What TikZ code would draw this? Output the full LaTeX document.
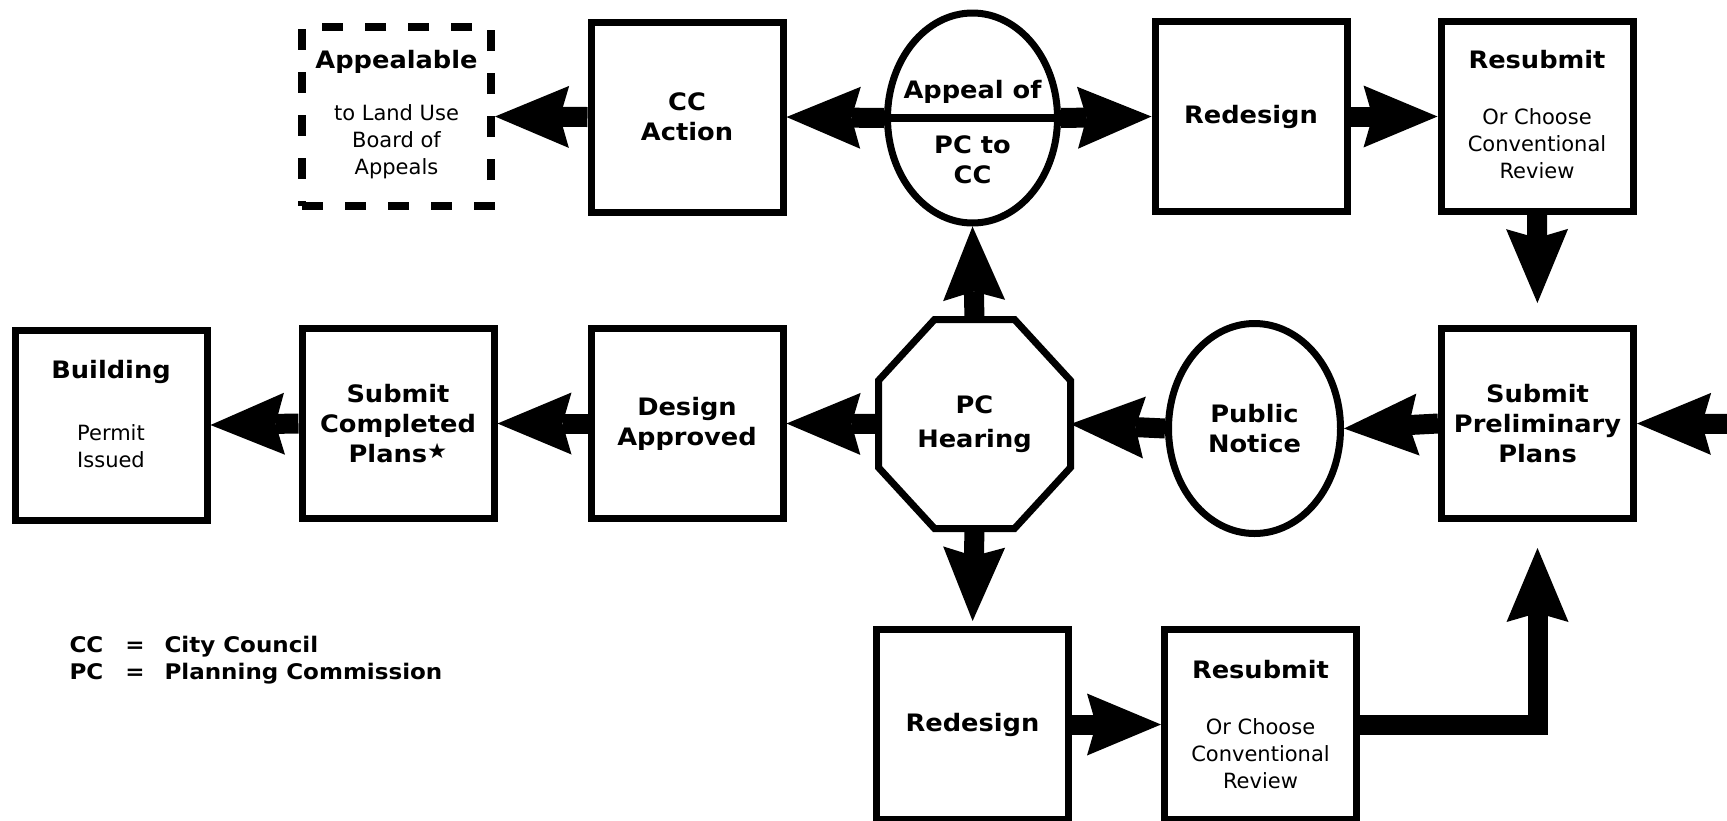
\documentclass[tikz,border=0pt]{standalone}
\usepackage{fontspec}
\setmainfont{DejaVu Sans}[BoldFeatures={FakeStretch=1.07}]
\usepackage{tikz}
\usetikzlibrary{arrows.meta, calc, shapes.geometric}
\newcommand{\headfont}{\fontsize{24}{30}\selectfont\bfseries}
\newcommand{\bodyfont}{\fontsize{21}{27}\selectfont}
\newcommand{\keyfont}{\fontsize{21.5}{27}\selectfont\bfseries}

\begin{document}
\begin{tikzpicture}[x=1pt, y=-1pt,
        stagebox/.style={draw, line width=7pt, minimum width=192pt, minimum height=190pt, align=center, font=\headfont},
        stageoval/.style={draw, ellipse, line width=7pt, minimum width=170pt, minimum height=210pt, inner sep=0pt, align=center, font=\headfont},
        head/.style={font=\headfont},
        body/.style={align=center, font=\bodyfont},
        flow/.style={line width=20pt, -{Stealth[length=74pt, width=62pt, inset=9pt, line width=0pt]}}]
        \useasboundingbox (0,0) rectangle (1727,820);

        % top row
        \node[stagebox, line width=8pt, dash pattern=on 21pt off 22pt, minimum width=189pt, minimum height=179pt] (luba) at (396.5,116.5) {};
        \node[head] (lubahead) at ($(luba)+(0,-54.5)$) {Appealable};
        \node[body] (lubabody) at ($(luba)+(0,25.5)$) {to Land Use\\Board of\\Appeals};
        \node[stagebox] (ccact) at (687,117) {CC\\Action};
        \node[stageoval] (appeal) at (972.5,118) {};
        \node[head] (appealhi) at ($(appeal)+(0,-26)$) {Appeal of};
        \node[head, align=center] (appeallo) at ($(appeal)+(0,42)$) {PC to\\CC};
        \node[stagebox] (redesignA) at (1251,116.5) {Redesign};
        \node[stagebox] (resubA) at (1537,116.5) {};
        \node[head] (resubAhead) at ($(resubA)+(0,-56.5)$) {Resubmit};
        \node[body] (resubAbody) at ($(resubA)+(0,27)$) {Or Choose\\Conventional\\Review};

        % middle row
        \node[stagebox] (building) at (111,425) {};
        \node[head] (buildinghead) at ($(building)+(0,-53)$) {Building};
        \node[body] (buildingbody) at ($(building)+(0,21.5)$) {Permit\\Issued};
        \node[stagebox] (completed) at (398,423.5) {Submit\\Completed\\Plans\raisebox{4pt}{\fontsize{21}{21}\selectfont ★}};
        \node[stagebox] (approved) at (687,423.5) {Design\\Approved};
        \node[stagebox, draw=none, outer sep=0pt, minimum height=209pt] (hearing) at (974.5,424) {PC\\[4pt]Hearing};
        \node[stageoval, minimum width=172pt] (notice) at (1254.5,428.5) {Public\\Notice};
        \node[stagebox] (prelim) at (1537.5,423.5) {Submit\\Preliminary\\Plans};
        \coordinate (entry) at (1740,424);

        % bottom row
        \node[stagebox] (redesignB) at (972.5,724.5) {Redesign};
        \node[stagebox] (resubB) at (1260.5,724.5) {};
        \node[head] (resubBhead) at ($(resubB)+(0,-54.5)$) {Resubmit};
        \node[body] (resubBbody) at ($(resubB)+(0,29)$) {Or Choose\\Conventional\\Review};

        \draw[line width=7pt, line join=miter] ($(hearing.north west)+(56,0)$) -- ($(hearing.north east)+(-56,0)$)
            -- ($(hearing.north east)+(0,61)$) -- ($(hearing.south east)+(0,-61)$)
            -- ($(hearing.south east)+(-56,0)$) -- ($(hearing.south west)+(56,0)$)
            -- ($(hearing.south west)+(0,-61)$) -- ($(hearing.north west)+(0,61)$) -- cycle;
        \draw[line width=8pt] (appeal.west) -- (appeal.east);

        % arrows
        \draw[flow] (ccact.west) -- (luba.east);
        \draw[flow] (appeal.west) -- (ccact.east);
        \draw[flow] (appeal.east) -- (redesignA.west);
        \draw[flow] (redesignA.east) -- (resubA.west);
        \draw[flow, shorten >=22pt] (resubA.south) -- (prelim.north);
        \draw[flow] (entry) -- (prelim.east);
        \draw[flow] (prelim.west) -- (notice.east);
        \draw[flow] (notice.west) -- (hearing.east);
        \draw[flow] (hearing.west) -- (approved.east);
        \draw[flow] (approved.west) -- (completed.east);
        \draw[flow] (completed.west) -- (building.east);
        \draw[flow] (hearing.north) -- (appeal.south);
        \draw[flow, shorten >=5pt] (hearing.south) -- (redesignB.north);
        \draw[flow] (redesignB.east) -- (resubB.west);
        \draw[flow, line join=miter, shorten >=26pt] (resubB.east) -| (prelim.south);

        % key
        \node[anchor=west, font=\keyfont] (key) at (66,661) {\begin{tabular}{@{}l@{\hspace{22pt}}c@{\hspace{20pt}}l@{}}CC & = & City Council\\PC & = & Planning Commission\end{tabular}};
\end{tikzpicture}
\end{document}
